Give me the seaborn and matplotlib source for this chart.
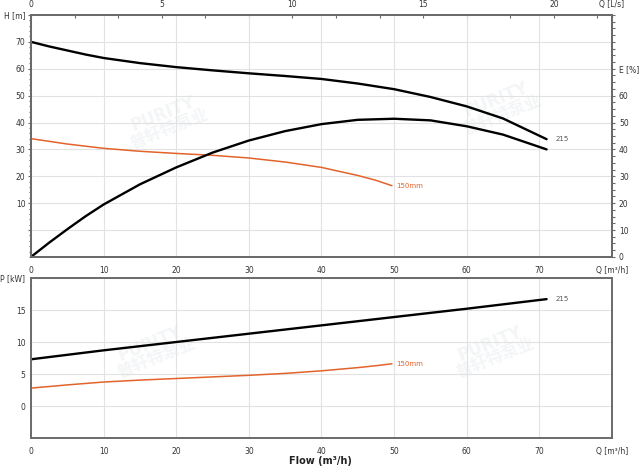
import seaborn as sns
import matplotlib.pyplot as plt
from matplotlib.ticker import MultipleLocator

# curve data (Q in m3/h)
q_215 = [0, 2.5, 5, 7.5, 10, 15, 20, 25, 30, 35, 40, 45, 50, 55, 60, 65, 71]
h_215 = [70, 68.3, 66.8, 65.3, 64, 62.1, 60.6, 59.4, 58.3, 57.3, 56.2, 54.5, 52.4, 49.5, 46, 41.5, 33.8]
e_215 = [0, 5.3, 10.3, 15.1, 19.5, 27, 33.3, 38.8, 43.3, 46.8, 49.4, 51, 51.4, 50.8, 48.6, 45.5, 40]

q_p215 = [0, 10, 20, 30, 40, 50, 60, 71]
p_215 = [7.3, 8.7, 10, 11.3, 12.6, 13.9, 15.2, 16.7]

q_150 = [0, 5, 10, 15, 20, 25, 30, 35, 40, 45, 47.5, 49.7]
h_150 = [34, 32, 30.4, 29.3, 28.5, 27.8, 26.8, 25.3, 23.3, 20.3, 18.5, 16.5]
p_150 = [2.8, 3.3, 3.75, 4.05, 4.3, 4.55, 4.8, 5.1, 5.5, 6.0, 6.3, 6.6]

x_ticks = [0, 10, 20, 30, 40, 50, 60, 70, 80]
x_labels = ['0', '10', '20', '30', '40', '50', '60', '70', 'Q [m³/h]']
ls_ticks = [0, 5, 10, 15, 20, 80 / 3.6]
ls_labels = ['0', '5', '10', '15', '20', 'Q [L/s]']
h_ticks = [0, 10, 20, 30, 40, 50, 60, 70, 80]
h_labels = ['', '10', '20', '30', '40', '50', '60', '70', 'H [m]']
e_ticks = [0, 10, 20, 30, 40, 50, 60, 70]
e_labels = ['0', '10', '20', '30', '40', '50', '60', 'E [%]']
p_ticks = [0, 5, 10, 15, 20]
p_labels = ['0', '5', '10', '15', 'P [kW]']

orange = '#e2632b'
spine_col = '#6a6a6a'
grid_col = '#e2e2e2'

sns.set_style('white')
plt.rcParams['font.family'] = ['DejaVu Sans', 'Noto Sans CJK SC']

fig = plt.figure(figsize=(6.4, 4.68), dpi=100)
ax1 = fig.add_axes([0.0484, 0.451, 0.9078, 0.517])
ax2 = fig.add_axes([0.0484, 0.064, 0.9078, 0.342])
ax1e = ax1.twinx()
for ax in (ax1, ax2, ax1e):
    ax.set_facecolor('none')

# faint watermark behind everything
for (wx, wy) in [(0.26, 0.74), (0.78, 0.77), (0.24, 0.25), (0.77, 0.25)]:
    fig.text(wx, wy, 'PURITY\n普轩特泵业', fontsize=12, fontweight='bold', color='#f3f5f7',
             rotation=22, ha='center', va='center', zorder=-5,
             family=['DejaVu Sans', 'Noto Sans CJK SC'], linespacing=0.9)

# head curves
sns.lineplot(x=q_215, y=h_215, ax=ax1, color='black', lw=1.7, legend=False)
sns.lineplot(x=q_150, y=h_150, ax=ax1, color=orange, lw=1.1, legend=False)
# efficiency curve
sns.lineplot(x=q_215, y=e_215, ax=ax1e, color='black', lw=1.7, legend=False)
# power curves
sns.lineplot(x=q_p215, y=p_215, ax=ax2, color='black', lw=1.7, legend=False)
sns.lineplot(x=q_150, y=p_150, ax=ax2, color=orange, lw=1.1, legend=False)

ax1.text(q_215[-1] + 1.2, h_215[-1], '215', fontsize=5, color='#555555', va='center')
ax1.text(q_150[-1] + 0.6, h_150[-1], '150mm', fontsize=5, color=orange, va='center')
ax2.text(q_p215[-1] + 1.2, p_215[-1], '215', fontsize=5, color='#555555', va='center')
ax2.text(q_150[-1] + 0.6, p_150[-1], '150mm', fontsize=5, color=orange, va='center')

# top chart axes
ax1.set_xlim(0, 80)
ax1.set_ylim(-10, 80)
ax1e.set_ylim(0, 90)
ax1.set_xticks(x_ticks)
ax1.set_xticklabels(x_labels)
ax1.set_yticks(h_ticks)
ax1.set_yticklabels(h_labels)
ax1e.set_yticks(e_ticks)
ax1e.set_yticklabels(e_labels)
ax1.xaxis.set_minor_locator(MultipleLocator(2.5))
ax1.yaxis.set_minor_locator(MultipleLocator(2))
ax1e.yaxis.set_minor_locator(MultipleLocator(2.5))

sec = ax1.secondary_xaxis('top', functions=(lambda q: q / 3.6, lambda l: l * 3.6))
sec.set_xticks(ls_ticks)
sec.set_xticklabels(ls_labels)
sec.xaxis.set_minor_locator(MultipleLocator(5 / 3))

# bottom chart axes
ax2.set_xlim(0, 80)
ax2.set_ylim(-5, 20)
ax2.set_xticks(x_ticks)
ax2.set_xticklabels(x_labels)
ax2.set_yticks(p_ticks)
ax2.set_yticklabels(p_labels)
ax2.xaxis.set_minor_locator(MultipleLocator(2.5))
ax2.yaxis.set_minor_locator(MultipleLocator(1))

for ax in (ax1, ax2):
    ax.grid(True, color=grid_col, lw=0.8)
    ax.set_axisbelow(True)
    ax.set_xlabel('')
    ax.set_ylabel('')
    ax.tick_params(which='both', direction='out', colors=spine_col, labelcolor='#333333',
                   labelsize=5.5, length=2.5, width=0.8, pad=1.5)
    ax.tick_params(which='minor', length=1.8)
    ax.tick_params(axis='x', pad=4)
    for s in ax.spines.values():
        s.set_color(spine_col)
        s.set_linewidth(1.4)
        s.set_visible(True)

ax1e.tick_params(which='both', direction='out', colors=spine_col, labelcolor='#333333',
                 labelsize=5.5, length=2.5, width=0.8, pad=2.5)
ax1e.tick_params(which='minor', length=1.8)
ax1e.set_ylabel('')
for s in ax1e.spines.values():
    s.set_color(spine_col)
    s.set_linewidth(1.4)
sec.tick_params(which='both', direction='in', colors=spine_col, labelcolor='#333333',
                labelsize=5.5, length=2.5, width=0.8, pad=4)
sec.tick_params(which='minor', length=2)
sec.spines['top'].set_color(spine_col)
sec.spines['top'].set_linewidth(1.4)

fig.text(0.5, 0.015, 'Flow (m³/h)', fontsize=7, fontweight='bold', ha='center', va='center',
         color='#222222')

fig.savefig('out.png', dpi=100)
